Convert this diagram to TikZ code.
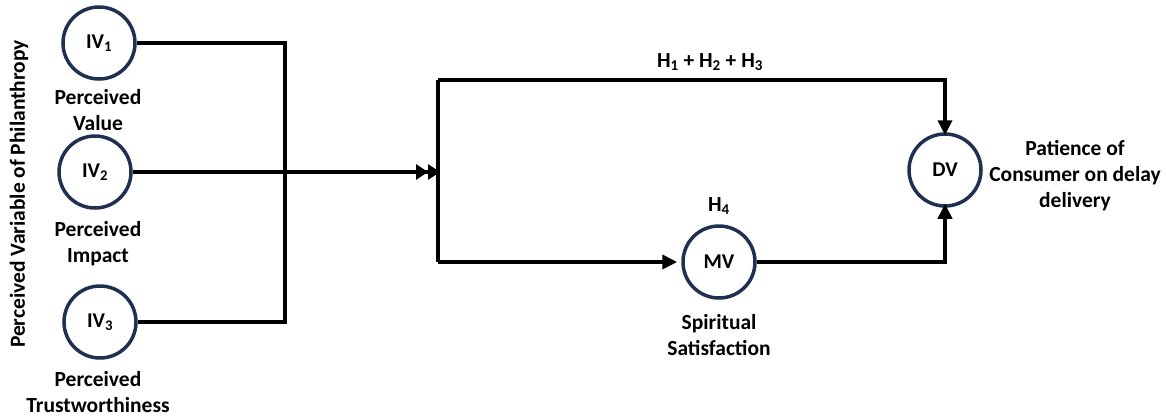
\documentclass[tikz,border=0pt]{standalone}
\usepackage{fontspec}
\setmainfont{Carlito}
\usetikzlibrary{arrows.meta}
\definecolor{navy}{HTML}{1F3050}
\tikzset{
  var/.style={circle, draw=navy, line width=3.5pt, minimum size=72pt, inner sep=0pt, font=\fontsize{21}{24}\selectfont\bfseries},
  lbl/.style={align=center, font=\fontsize{21.5}{26}\selectfont\bfseries, inner sep=0pt},
  conn/.style={line width=4pt, line join=miter},
  tip/.style={-{Triangle[length=15pt,width=14pt]}},
  dtip/.style={-{Triangle[length=12pt,width=15pt]Triangle[length=12pt,width=15pt,sep=-4pt]}}
}
\begin{document}
\begin{tikzpicture}[x=1pt,y=-1pt]
\useasboundingbox (0,0) rectangle (1166,418);
\node[var] (iv1) at (99,43) {IV\textsubscript{1}};
\node[var] (iv2) at (95,172) {IV\textsubscript{2}};
\node[var] (iv3) at (100,322) {IV\textsubscript{3}};
\node[var] (mv) at (719,262) {MV};
\node[var] (dv) at (945,170) {DV};

\node[lbl] (l1) at (98,110) {Perceived\\Value};
\node[lbl] (l2) at (98,244) {Perceived\\Impact};
\node[lbl] (l3) at (98,392) {Perceived\\Trustworthiness};
\node[lbl] (lmv) at (719,335) {Spiritual\\Satisfaction};
\node[lbl, align=center] (ldv) at (1075,176) {Patience of\\Consumer on delay\\delivery};
\node[lbl] (h13) at (710,62) {H\textsubscript{1} + H\textsubscript{2} + H\textsubscript{3}};
\node[lbl] (h4) at (719,206) {H\textsubscript{4}};
\node[lbl, rotate=90] (side) at (19,194) {Perceived Variable of Philanthropy};

\coordinate (b1) at (285,43);
\coordinate (b3) at (285,322);
\coordinate (j) at (436,172);
\coordinate (t) at (438,80);
\coordinate (u) at (438,262);

\draw[conn] (iv1.east) -- (b1) -- (b3) -- (iv3.east);
\draw[conn, dtip] (iv2.east) -- (j);
\draw[conn] (t) -- (u);
\draw[conn, tip] (t) -| ([yshift=-3pt]dv.north);
\draw[conn, tip] (u) -- ([xshift=-4pt]mv.west);
\draw[conn, tip] (mv.east) -| ([yshift=4pt]dv.south);
\end{tikzpicture}
\end{document}
